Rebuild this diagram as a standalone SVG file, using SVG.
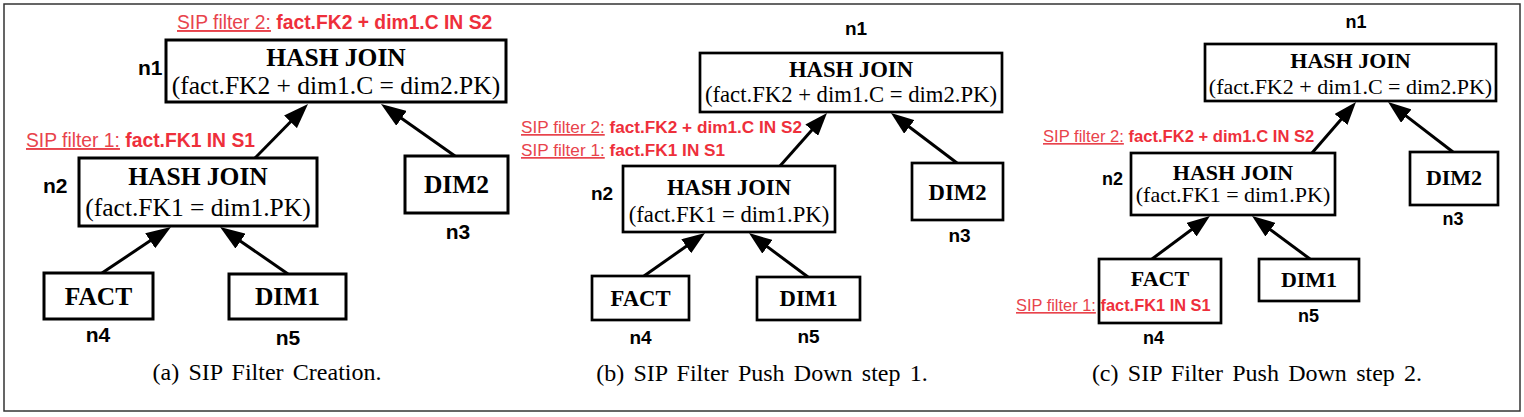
<svg xmlns="http://www.w3.org/2000/svg" width="1524" height="417" viewBox="0 0 1524 417">
<style>
.box{fill:#fff;stroke:#000;stroke-width:3}
.bb{stroke-width:2.7}
.t{font-family:"Liberation Serif","Times New Roman",serif;text-anchor:middle;fill:#000}
.tb{font-weight:bold}
.lab{font-family:"Liberation Sans",Arial,sans-serif;font-weight:bold;fill:#000}
.mid{text-anchor:middle}
.sip{font-family:"Liberation Sans",Arial,sans-serif}
.sr{fill:#e8434c;text-decoration:underline}
.sb{fill:#ee2f3b;font-weight:bold}
.cap{font-family:"Liberation Serif","Times New Roman",serif;font-size:24px;text-anchor:middle;word-spacing:3.3px;fill:#000}
.edge{stroke:#000;stroke-width:3;fill:none}
</style>
<defs>
<marker id="ah" markerUnits="userSpaceOnUse" markerWidth="25" markerHeight="18" refX="4" refY="9" orient="auto" viewBox="0 0 25 18"><path d="M0,0 L25,9 L0,18 z" fill="#000"/></marker>
<marker id="ah2" markerUnits="userSpaceOnUse" markerWidth="23" markerHeight="17" refX="4" refY="8.5" orient="auto" viewBox="0 0 23 17"><path d="M0,0 L23,8.5 L0,17 z" fill="#000"/></marker>
</defs>
<rect x="4" y="4" width="1516" height="407" fill="#fff" stroke="#333" stroke-width="1.5"/>

<g id="connectors">
<line class="edge" x1="255" y1="158" x2="293.3" y2="119" marker-end="url(#ah)"/>
<line class="edge" x1="455" y1="156" x2="398.2" y2="116.1" marker-end="url(#ah)"/>
<line class="edge" x1="102" y1="273" x2="153.5" y2="238.6" marker-end="url(#ah)"/>
<line class="edge" x1="288" y1="274" x2="237.3" y2="238.9" marker-end="url(#ah)"/>
<line class="edge" stroke-width="2.7" x1="780" y1="166" x2="814.4" y2="127.2" marker-end="url(#ah2)"/>
<line class="edge" stroke-width="2.7" x1="957" y1="163" x2="906.1" y2="124.5" marker-end="url(#ah2)"/>
<line class="edge" stroke-width="2.7" x1="644" y1="276" x2="689.5" y2="244" marker-end="url(#ah2)"/>
<line class="edge" stroke-width="2.7" x1="808" y1="277" x2="764.2" y2="244.4" marker-end="url(#ah2)"/>
<line class="edge" stroke-width="2.7" x1="1312" y1="153" x2="1343.6" y2="116.4" marker-end="url(#ah2)"/>
<line class="edge" stroke-width="2.7" x1="1453" y1="152" x2="1403.1" y2="113.6" marker-end="url(#ah2)"/>
<line class="edge" stroke-width="2.7" x1="1152" y1="259" x2="1194.7" y2="227.3" marker-end="url(#ah2)"/>
<line class="edge" stroke-width="2.7" x1="1310" y1="259" x2="1267.3" y2="227.3" marker-end="url(#ah2)"/>
</g>

<!-- Panel (a) -->
<g id="a-n1">
<rect class="box" x="166" y="40" width="340" height="62"/>
<text class="t tb" x="336" y="66" font-size="25.5">HASH JOIN</text>
<text class="t" x="336" y="94" font-size="25.5">(fact.FK2 + dim1.C = dim2.PK)</text>
<text class="lab" x="138" y="75" font-size="21">n1</text>
</g>
<g id="a-n2">
<rect class="box" x="79" y="158" width="238" height="68"/>
<text class="t tb" x="198" y="185" font-size="25.5">HASH JOIN</text>
<text class="t" x="198" y="216" font-size="25.5">(fact.FK1 = dim1.PK)</text>
<text class="lab" x="43" y="193" font-size="21">n2</text>
</g>
<g id="a-n3">
<rect class="box" x="405" y="156" width="103" height="57"/>
<text class="t tb" x="456.5" y="193" font-size="25.5">DIM2</text>
<text class="lab mid" x="458" y="239" font-size="21">n3</text>
</g>
<g id="a-n4">
<rect class="box" x="44" y="273" width="109" height="46"/>
<text class="t tb" x="98.5" y="305" font-size="25.5">FACT</text>
<text class="lab mid" x="98" y="342" font-size="21">n4</text>
</g>
<g id="a-n5">
<rect class="box" x="229" y="274" width="117" height="45"/>
<text class="t tb" x="287.5" y="305" font-size="25.5">DIM1</text>
<text class="lab mid" x="288" y="345" font-size="21">n5</text>
</g>
<text class="sip" x="177" y="29" font-size="19.3"><tspan class="sr">SIP filter 2:</tspan> <tspan class="sb">fact.FK2 + dim1.C IN S2</tspan></text>
<text class="sip" x="26" y="147" font-size="19.3"><tspan class="sr">SIP filter 1:</tspan> <tspan class="sb">fact.FK1 IN S1</tspan></text>
<text class="cap" x="267" y="380">(a) SIP Filter Creation.</text>

<!-- Panel (b) -->
<g id="b-n1">
<rect class="box bb" x="700" y="53" width="302" height="59"/>
<text class="t tb" x="851" y="77" font-size="22.7">HASH JOIN</text>
<text class="t" x="851" y="102" font-size="22.7">(fact.FK2 + dim1.C = dim2.PK)</text>
<text class="lab mid" x="856" y="35" font-size="19">n1</text>
</g>
<g id="b-n2">
<rect class="box bb" x="623" y="166" width="212" height="66"/>
<text class="t tb" x="729" y="195" font-size="22.7">HASH JOIN</text>
<text class="t" x="729" y="222" font-size="22.7">(fact.FK1 = dim1.PK)</text>
<text class="lab" x="591" y="200" font-size="19">n2</text>
</g>
<g id="b-n3">
<rect class="box bb" x="912" y="163" width="91" height="57"/>
<text class="t tb" x="957.5" y="200" font-size="22.7">DIM2</text>
<text class="lab mid" x="959.5" y="242" font-size="19">n3</text>
</g>
<g id="b-n4">
<rect class="box bb" x="592" y="276" width="97" height="44"/>
<text class="t tb" x="640.5" y="306" font-size="22.7">FACT</text>
<text class="lab mid" x="640.5" y="344" font-size="19">n4</text>
</g>
<g id="b-n5">
<rect class="box bb" x="757" y="277" width="103" height="43"/>
<text class="t tb" x="808.5" y="306" font-size="22.7">DIM1</text>
<text class="lab mid" x="808.5" y="343" font-size="19">n5</text>
</g>
<text class="sip" x="521" y="133" font-size="17.2"><tspan class="sr">SIP filter 2:</tspan> <tspan class="sb">fact.FK2 + dim1.C IN S2</tspan></text>
<text class="sip" x="521" y="156" font-size="17.2"><tspan class="sr">SIP filter 1:</tspan> <tspan class="sb">fact.FK1 IN S1</tspan></text>
<text class="cap" x="762" y="381">(b) SIP Filter Push Down step 1.</text>

<!-- Panel (c) -->
<g id="c-n1">
<rect class="box bb" x="1205" y="44" width="291" height="57"/>
<text class="t tb" x="1350.5" y="68" font-size="22">HASH JOIN</text>
<text class="t" x="1350.5" y="94" font-size="22">(fact.FK2 + dim1.C = dim2.PK)</text>
<text class="lab mid" x="1356" y="28" font-size="18">n1</text>
</g>
<g id="c-n2">
<rect class="box bb" x="1131" y="153" width="204" height="62"/>
<text class="t tb" x="1233" y="180" font-size="22">HASH JOIN</text>
<text class="t" x="1233" y="202" font-size="22">(fact.FK1 = dim1.PK)</text>
<text class="lab" x="1102" y="185" font-size="18">n2</text>
</g>
<g id="c-n3">
<rect class="box bb" x="1410" y="152" width="88" height="53"/>
<text class="t tb" x="1454" y="185" font-size="22">DIM2</text>
<text class="lab mid" x="1453" y="225" font-size="18">n3</text>
</g>
<g id="c-n4">
<rect class="box bb" x="1099" y="259" width="122" height="64"/>
<text class="t tb" x="1160" y="286" font-size="22">FACT</text>
<text class="sip" x="1016" y="311" font-size="16.4"><tspan class="sr">SIP filter 1:</tspan> <tspan class="sb">fact.FK1 IN S1</tspan></text>
<text class="lab mid" x="1153.5" y="344" font-size="18">n4</text>
</g>
<g id="c-n5">
<rect class="box bb" x="1259" y="259" width="100" height="42"/>
<text class="t tb" x="1309" y="287" font-size="22">DIM1</text>
<text class="lab mid" x="1308.5" y="322" font-size="18">n5</text>
</g>
<text class="sip" x="1043" y="142" font-size="16.6"><tspan class="sr">SIP filter 2:</tspan> <tspan class="sb">fact.FK2 + dim1.C IN S2</tspan></text>
<text class="cap" x="1257" y="381">(c) SIP Filter Push Down step 2.</text>
</svg>
